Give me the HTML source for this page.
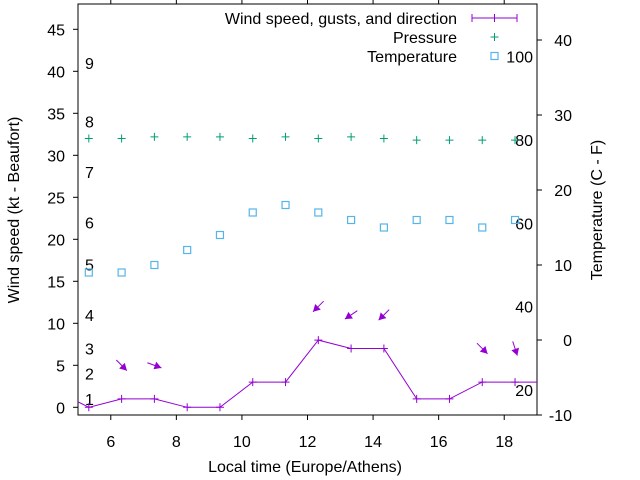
<!DOCTYPE html>
<html><head><meta charset="utf-8"><style>
body{margin:0;background:#fff}
svg{display:block;font-family:"Liberation Sans",Arial,sans-serif}
</style></head><body>
<svg id="chart" width="640" height="480" viewBox="0 0 640 480">
<g id="g"></g>
</svg>
<script>
const times=[5.33,6.33,7.33,8.33,9.33,10.33,11.33,12.33,13.33,14.33,15.33,16.33,17.33,18.33];
const windSpeed=[0,1,1,0,0,3,3,8,7,7,1,1,3,3];
const windPrevTime=4.33, windPrevSpeed=2, windNextTime=19.33, windNextSpeed=3;
const pressure=[32,32,32.2,32.2,32.2,32,32.2,32,32.2,32,31.8,31.8,31.8,31.8];
const temperature=[9,9,10,12,14,17,18,17,16,15,16,16,15,16];
const arrowTimes=[6.33,7.33,12.33,13.33,14.33,17.33,18.33];
const arrowGust=[5,5,12,11,11,7,7];
const arrowDir=[315,290,45,56,45,315,342];
const xTicks=[6,8,10,12,14,16,18];
const yTicks=[0,5,10,15,20,25,30,35,40,45];
const y2Ticks=[-10,0,10,20,30,40];
const beaufortKt=[1,4,7,11,17,22,28,34,41];
const beaufortLabels=["1","2","3","4","5","6","7","8","9"];
const fTicks=[20,40,60,80,100];

const L=78,R=537,T=4,B=415;
const X=t=>L+(t-5)*(R-L)/14;
const Y=v=>407.3-8.4*v;
const Y2=c=>340-7.5*c;
const NS="http://www.w3.org/2000/svg";
const g=document.getElementById('g');
function el(tag,attrs,parent){const e=document.createElementNS(NS,tag);for(const k in attrs)e.setAttribute(k,attrs[k]);(parent||g).appendChild(e);return e;}
function txt(x,y,s,anchor,parent){const e=el('text',{x:x,y:y,'font-size':16,'text-anchor':anchor||'middle',fill:'#000'},parent);e.textContent=s;return e;}

const defs=el('defs',{});const cp=el('clipPath',{id:'clip'},defs);el('rect',{x:L,y:T,width:R-L,height:B-T},cp);

const ax=el('g',{});


el('rect',{x:L,y:T,width:R-L,height:B-T,fill:'none',stroke:'#000','stroke-width':1},ax);
xTicks.forEach(t=>{
  el('line',{x1:X(t),x2:X(t),y1:B,y2:B+5,stroke:'#000'},ax);
  el('line',{x1:X(t),x2:X(t),y1:T,y2:T-5,stroke:'#000'},ax);
  const e=txt(X(t),B+32,String(t));
  
  
});
yTicks.forEach(v=>{
  el('line',{x1:L-5,x2:L,y1:Y(v),y2:Y(v),stroke:'#000'},ax);
  const e=txt(65,Y(v)+6,String(v),'end');
  
  
});
y2Ticks.forEach(v=>{
  el('line',{x1:R,x2:R+5,y1:Y2(v),y2:Y2(v),stroke:'#000'},ax);
  const e=txt(572,Y2(v)+6,String(v),'end');
  
  
});
beaufortKt.forEach((k,i)=>{
  const e=txt(85,Y(k)+6,beaufortLabels[i],'start');
  
  
});
fTicks.forEach(f=>{
  const e=txt(533,Y2((f-32)*5/9)+6,String(f),'end');
  
  
});
let e=txt(305,472,'Local time (Europe/Athens)');

e=txt(0,0,'Wind speed (kt - Beaufort)');e.setAttribute('transform','translate(19,210) rotate(-90)');

e=txt(0,0,'Temperature (C - F)');e.setAttribute('transform','translate(602,210) rotate(-90)');


const C_W='#9400d3',C_P='#009e73',C_T='#56b4e9';
function plus(x,y,c,p){el('path',{d:`M${x-4},${y}h8M${x},${y-4}v8`,stroke:c,'stroke-width':1},p);}
function square(x,y,c,p){el('rect',{x:x-3.5,y:y-3.5,width:7,height:7,fill:'none',stroke:c,'stroke-width':1.2},p);}

const wg=el('g',{'clip-path':'url(#clip)'});


let pts=[[X(windPrevTime),Y(windPrevSpeed)]].concat(times.map((t,i)=>[X(t),Y(windSpeed[i])])).concat([[X(windNextTime),Y(windNextSpeed)]]);
el('polyline',{points:pts.map(p=>p.join(',')).join(' '),fill:'none',stroke:C_W,'stroke-width':1},wg);
times.forEach((t,i)=>plus(X(t),Y(windSpeed[i]),C_W,wg));

const pg=el('g',{});


times.forEach((t,i)=>plus(X(t),Y(pressure[i]),C_P,pg));

const tg=el('g',{});


times.forEach((t,i)=>square(X(t),Y2(temperature[i]),C_T,tg));

const ag=el('g',{});


arrowTimes.forEach((t,i)=>{
  const b=(arrowDir[i]+180)*Math.PI/180;
  const dx=Math.sin(b),dy=-Math.cos(b),len=15;
  const cx=X(t),cy=Y(arrowGust[i]);
  const x1=cx-dx*len/2,y1=cy-dy*len/2,x2=cx+dx*len/2,y2=cy+dy*len/2;
  el('line',{x1:x1,y1:y1,x2:x2,y2:y2,stroke:C_W,'stroke-width':1},ag);
  const hl=7,hw=4,bx=x2-dx*hl,by=y2-dy*hl;
  el('polygon',{points:`${x2},${y2} ${bx-dy*hw},${by+dx*hw} ${bx+dy*hw},${by-dx*hw}`,fill:C_W},ag);
});

const lg=el('g',{});


txt(457,24,'Wind speed, gusts, and direction','end',lg);
el('line',{x1:472,x2:517,y1:18,y2:18,stroke:C_W},lg);
[472,494.5,517].forEach(x=>el('line',{x1:x,x2:x,y1:14,y2:22,stroke:C_W},lg));
txt(457,43,'Pressure','end',lg);plus(494.5,37,C_P,lg);
txt(457,62,'Temperature','end',lg);square(494.5,56,C_T,lg);
</script>
</body></html>
